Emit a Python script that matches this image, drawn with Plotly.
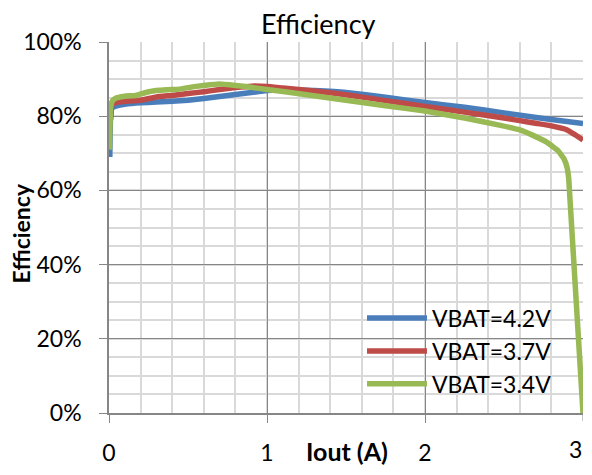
import plotly.graph_objects as go

# Data
series_names = ["VBAT=4.2V", "VBAT=3.7V", "VBAT=3.4V"]
series_colors = ["#4A7EBB", "#BE4B48", "#98B954"]

x_42 = [0.005, 0.01, 0.02, 0.05, 0.1, 0.2, 0.3, 0.5, 0.7, 0.9, 1.0, 1.1, 1.3, 1.5, 1.75, 2.0, 2.25, 2.5, 2.75, 3.0]
y_42 = [69.0, 80.0, 82.3, 82.8, 83.2, 83.6, 83.8, 84.3, 85.3, 86.4, 86.9, 87.2, 86.9, 86.4, 85.1, 83.7, 82.4, 80.9, 79.4, 78.0]

x_37 = [0.01, 0.02, 0.05, 0.1, 0.2, 0.3, 0.4, 0.5, 0.6, 0.7, 0.8, 0.9, 1.0, 1.1, 1.3, 1.5, 1.75, 2.0, 2.25, 2.5, 2.6, 2.7, 2.8, 2.9, 2.95, 3.0]
y_37 = [79.0, 83.2, 83.8, 84.0, 84.3, 85.2, 85.6, 86.1, 86.6, 87.2, 87.7, 88.1, 88.0, 87.6, 86.8, 85.8, 84.2, 82.6, 81.1, 79.5, 78.8, 78.1, 77.4, 76.3, 75.0, 73.6]

x_34 = [0.003, 0.01, 0.02, 0.04, 0.1, 0.17, 0.25, 0.32, 0.4, 0.45, 0.53, 0.6, 0.7, 0.8, 0.9, 1.0, 1.25, 1.5, 1.75, 2.0, 2.25, 2.47, 2.6, 2.68, 2.77, 2.84, 2.88, 2.9, 2.91, 3.0]
y_34 = [71.0, 82.0, 84.0, 84.8, 85.4, 85.6, 86.6, 87.0, 87.2, 87.3, 87.9, 88.3, 88.7, 88.3, 87.8, 87.2, 85.8, 84.3, 82.8, 81.4, 79.5, 77.6, 76.3, 74.9, 73.0, 70.8, 68.5, 66.0, 63.0, 0.0]

x_ticks = [0, 1, 2, 3]
x_tick_labels = ["0", "1", "2", "3"]
y_ticks = [0, 20, 40, 60, 80, 100]
y_tick_labels = ["0%", "20%", "40%", "60%", "80%", "100%"]

FONT = "Lato"
fig = go.Figure()
for name, color, xs, ys in zip(series_names, series_colors, [x_42, x_37, x_34], [y_42, y_37, y_34]):
    fig.add_trace(go.Scatter(x=xs, y=ys, mode="lines", name=name,
                             line=dict(color=color, width=5.5, shape="spline", smoothing=0.3)))

major = "#868686"
minor_c = "#D9D9D9"
# page body keeps its default 8px margin: figure is 576x459 so the page is exactly 592x475
OFF = 8
PL, PR, PT, PB = 109, 583, 42, 418  # plot area in page pixels
W, H = 592 - 2 * OFF, 475 - 2 * OFF
pw, ph = PR - PL, PB - PT


def px(x):
    return (x - PL) / pw


def py(y):
    return (PB - y) / ph


tick_font = dict(size=23, family=FONT, color="#000000")
fig.update_layout(
    width=W, height=H,
    margin=dict(l=PL - OFF, r=W - (PR - OFF), t=PT - OFF, b=H - (PB - OFF)),
    paper_bgcolor="white", plot_bgcolor="white",
    font=dict(family=FONT, color="#000000", size=22),
    showlegend=True,
    legend=dict(x=px(362), y=py(300), xanchor="left", yanchor="top",
                bgcolor="rgba(0,0,0,0)", font=dict(size=23, family=FONT),
                tracegroupgap=0, itemwidth=60),
    xaxis=dict(range=[0, 3], tickvals=x_ticks[:-1], ticktext=x_tick_labels[:-1],
               tickfont=tick_font,
               showgrid=True, gridcolor=major, gridwidth=1,
               showline=True, linecolor=major, linewidth=1.5,
               ticks="outside", ticklen=8, tickcolor=major, ticklabelstandoff=11,
               minor=dict(dtick=0.2, showgrid=True, gridcolor=minor_c, gridwidth=1.5),
               zeroline=False, fixedrange=True),
    yaxis=dict(range=[0, 100], tickvals=y_ticks, ticktext=y_tick_labels,
               tickfont=tick_font,
               showgrid=True, gridcolor=major, gridwidth=1,
               showline=True, linecolor=major, linewidth=1.5,
               ticks="outside", ticklen=8, tickcolor=major, ticklabelstandoff=13,
               minor=dict(dtick=5, showgrid=True, gridcolor=minor_c, gridwidth=1.5),
               zeroline=False, fixedrange=True),
    shapes=[
        # the tick mark under the last x tick (its label is drawn as an annotation below)
        dict(type="line", xref="x", yref="paper", x0=x_ticks[-1], x1=x_ticks[-1], y0=0, y1=-8 / ph,
             line=dict(color=major, width=1)),
    ],
    annotations=[
        # last x tick label, kept inside the figure edge
        dict(text=x_tick_labels[-1], xref="x", yref="paper", x=x_ticks[-1], y=py(454),
             showarrow=False, font=tick_font, xanchor="right", yanchor="middle", xshift=1),
        dict(text="Efficiency", xref="paper", yref="paper", x=px(318), y=py(OFF),
             showarrow=False, font=dict(size=27, family=FONT), xanchor="center", yanchor="top", yshift=3),
        dict(text="<b>Iout (A)</b>", xref="paper", yref="paper", x=px(347), y=py(457),
             showarrow=False, font=dict(size=25, family=FONT), xanchor="center", yanchor="middle"),
        dict(text="<b>Efficiency</b>", xref="paper", yref="paper", x=px(21), y=py(236),
             showarrow=False, textangle=-90, font=dict(size=23, family=FONT), xanchor="center", yanchor="middle"),
    ],
)
fig.write_html("out.html", config={"displayModeBar": False})
